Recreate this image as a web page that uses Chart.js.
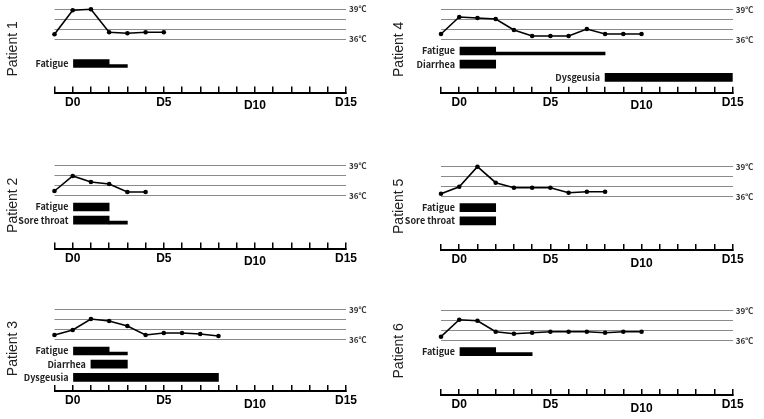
<!DOCTYPE html>
<html><head><meta charset="utf-8">
<script src="https://cdn.jsdelivr.net/npm/chart.js@4"></script>
<style>
html,body{margin:0;padding:0;background:#fff;}
#wrap{position:relative;width:764px;height:419px;overflow:hidden;background:#fff;}
canvas{position:absolute;}
</style></head><body><div id="wrap"></div>
<script>
// ---------------- data ----------------
const patientNames = ['Patient 1', 'Patient 2', 'Patient 3', 'Patient 4', 'Patient 5', 'Patient 6'];
const firstTempDay = -1;   // temperature series start the day before D0

const tempP1 = [36.5, 38.9, 39.0, 36.7, 36.6, 36.7, 36.7];
const tempP2 = [36.5, 38.0, 37.4, 37.2, 36.4, 36.4];
const tempP3 = [36.5, 37.0, 38.1, 37.9, 37.4, 36.5, 36.7, 36.7, 36.6, 36.4];
const tempP4 = [36.6, 38.3, 38.2, 38.1, 37.0, 36.4, 36.4, 36.4, 37.1, 36.6, 36.6, 36.6];
const tempP5 = [36.3, 37.0, 39.0, 37.4, 36.9, 36.9, 36.9, 36.4, 36.5, 36.5];
const tempP6 = [36.4, 38.1, 38.0, 36.9, 36.7, 36.8, 36.9, 36.9, 36.9, 36.8, 36.9, 36.9];

// symptoms: onset day, end of severe (thick) phase, end of mild (thin) phase
const symptomsP1 = ['', 'Fatigue'];
const onsetP1 = [null, 0];
const severeEndP1 = [null, 2];
const endP1 = [null, 3];

const symptomsP2 = ['Fatigue', 'Sore throat'];
const onsetP2 = [0, 0];
const severeEndP2 = [2, 2];
const endP2 = [2, 3];

const symptomsP3 = ['Fatigue', 'Diarrhea', 'Dysgeusia'];
const onsetP3 = [0, 1, 0];
const severeEndP3 = [2, 3, 8];
const endP3 = [3, 3, 8];

const symptomsP4 = ['Fatigue', 'Diarrhea', 'Dysgeusia'];
const onsetP4 = [0, 0, 8];
const severeEndP4 = [2, 2, 15];
const endP4 = [8, 2, 15];

const symptomsP5 = ['Fatigue', 'Sore throat'];
const onsetP5 = [0, 0];
const severeEndP5 = [2, 2];
const endP5 = [2, 2];

const symptomsP6 = ['Fatigue'];
const onsetP6 = [0];
const severeEndP6 = [2];
const endP6 = [4];

const dayMin = -1, dayMax = 15;
const xLabelDays = [0, 5, 10, 15];
const xTickLabels = ['D0', 'D5', 'D10', 'D15'];
const tempGridValues = [36, 37, 38, 39];
const tempLabelValues = [36, 39];
const tempTickLabels = ['36℃', '39℃'];

// ---------------- layout (style only) ----------------
const panels = [
  {col: 0, T: 5.3,   B: 92.5, name: patientNames[0], temps: tempP1, symptoms: symptomsP1, onset: onsetP1, severeEnd: severeEndP1, end: endP1},
  {col: 0, T: 162,   B: 248.5, name: patientNames[1], temps: tempP2, symptoms: symptomsP2, onset: onsetP2, severeEnd: severeEndP2, end: endP2},
  {col: 0, T: 306,   B: 391, name: patientNames[2], temps: tempP3, symptoms: symptomsP3, onset: onsetP3, severeEnd: severeEndP3, end: endP3},
  {col: 1, T: 6,     B: 92.7, name: patientNames[3], temps: tempP4, symptoms: symptomsP4, onset: onsetP4, severeEnd: severeEndP4, end: endP4},
  {col: 1, T: 162.7, B: 250, name: patientNames[4], temps: tempP5, symptoms: symptomsP5, onset: onsetP5, severeEnd: severeEndP5, end: endP5},
  {col: 1, T: 306.7, B: 395, name: patientNames[5], temps: tempP6, symptoms: symptomsP6, onset: onsetP6, severeEnd: severeEndP6, end: endP6}
];

const dayTicks = [];
for (let d = dayMin; d <= dayMax; d++) dayTicks.push(d);

const symptomLabelPlugin = {
  id: 'symptomLabels',
  afterDatasetsDraw(chart) {
    const ctx = chart.ctx;
    ctx.save();
    ctx.font = '700 9px "Noto Sans CJK JP", "Noto Sans", sans-serif';
    ctx.fillStyle = '#222';
    ctx.textAlign = 'right';
    ctx.textBaseline = 'middle';
    chart.data.datasets.forEach((ds, di) => {
      if (!ds.isSevere) return;
      const meta = chart.getDatasetMeta(di);
      meta.data.forEach((el, i) => {
        const left = Math.min(el.x, el.base);
        ctx.fillText(ds.data[i].name, left - 5, el.y);
      });
    });
    ctx.restore();
  }
};

const wrap = document.getElementById('wrap');

panels.forEach(p => {
  const L = p.col ? 59 : 54.5;
  const R = p.col ? 31.3 : 36;
  const titlePad = p.col ? 8.8 : 5.1;
  const XH = 28;
  const canvasTop = Math.floor(p.T - 10);
  const padTop = p.T - canvasTop;
  const plotH = p.B - p.T;
  const H = Math.ceil(padTop + plotH + XH);
  const padBottom = H - padTop - plotH - XH;

  const canvas = document.createElement('canvas');
  canvas.width = 382; canvas.height = H;
  canvas.style.left = (p.col * 382) + 'px';
  canvas.style.top = canvasTop + 'px';
  canvas.style.width = '382px'; canvas.style.height = H + 'px';
  wrap.appendChild(canvas);

  const tMax = 39.4, tMin = tMax - plotH / 10;
  const rowPx = 13.2;
  const sMin = -49 / rowPx, sMax = sMin + plotH / rowPx;

  const severe = [], mild = [];
  p.symptoms.forEach((name, i) => {
    if (!name) return;
    severe.push({x: [p.onset[i], p.severeEnd[i]], y: i, name: name});
    if (p.end[i] > p.severeEnd[i]) mild.push({x: [p.severeEnd[i], p.end[i]], y: i});
  });

  new Chart(canvas, {
    type: 'line',
    data: {
      datasets: [
        {type: 'line', data: p.temps.map((t, i) => ({x: firstTempDay + i, y: t})),
         xAxisID: 'x', yAxisID: 'yT', borderColor: '#000', borderWidth: 1.6,
         pointRadius: 2.3, pointBackgroundColor: '#000', pointBorderWidth: 0,
         tension: 0, clip: false},
        {type: 'bar', indexAxis: 'y', isSevere: true, data: severe, xAxisID: 'x', yAxisID: 'yS',
         stack: 'sym', barThickness: 8, backgroundColor: '#000', borderWidth: 0},
        {type: 'bar', indexAxis: 'y', data: mild, xAxisID: 'x', yAxisID: 'yS',
         stack: 'sym', barThickness: 3, backgroundColor: '#000', borderWidth: 0},
        {type: 'bar', indexAxis: 'y', data: [], xAxisID: 'x', yAxisID: 'yS',
         stack: 'spacer', barThickness: 3, backgroundColor: '#000', borderWidth: 0}
      ]
    },
    options: {
      responsive: false, animation: false, devicePixelRatio: 1,
      layout: {padding: {top: padTop, bottom: padBottom, left: 0, right: 0}},
      plugins: {legend: {display: false}, tooltip: {enabled: false}},
      scales: {
        x: {
          type: 'linear', position: 'bottom', min: dayMin, max: dayMax, stacked: false, offset: false,
          afterBuildTicks: s => { s.ticks = dayTicks.map(v => ({value: v})); },
          afterFit: s => { s.height = XH; },
          grid: {display: true, drawOnChartArea: false, drawTicks: true, tickLength: -6,
                 color: '#000', lineWidth: 1.5, offset: false},
          border: {display: true, color: '#000', width: 2},
          ticks: {
            autoSkip: false, maxRotation: 0, minRotation: 0, padding: 8.5, color: '#000',
            font: ctx => ({family: '"Liberation Sans", Arial, sans-serif', size: 12, weight: 'bold',
                           lineHeight: (ctx.tick && ctx.tick.value === 10) ? 1.82 : 1.2}),
            callback: v => { const k = xLabelDays.indexOf(v); return k >= 0 ? xTickLabels[k] : ''; }
          }
        },
        yT: {
          type: 'linear', position: 'right', min: tMin, max: tMax, offset: false,
          afterBuildTicks: s => { s.ticks = tempGridValues.map(v => ({value: v})); },
          afterFit: s => { s.width = R; },
          grid: {color: '#8a8a8a', lineWidth: 1, drawTicks: false, offset: false},
          border: {display: false},
          ticks: {
            padding: 3, color: '#333',
            font: {family: '"Noto Sans CJK JP", "Noto Sans", sans-serif', size: 8, weight: 'bold'},
            callback: v => { const k = tempLabelValues.indexOf(v); return k >= 0 ? tempTickLabels[k] : ''; }
          }
        },
        yS: {
          type: 'linear', position: 'left', reverse: true, min: sMin, max: sMax, offset: false,
          afterFit: s => { s.width = L; },
          grid: {display: false, offset: false},
          border: {display: false},
          ticks: {display: false},
          title: {display: true, text: p.name, color: '#222',
                  font: {family: '"Liberation Sans", Arial, sans-serif', size: 14, weight: 'normal'},
                  padding: {top: titlePad, bottom: 0}}
        }
      }
    },
    plugins: [symptomLabelPlugin]
  });
});
</script>
</body></html>
